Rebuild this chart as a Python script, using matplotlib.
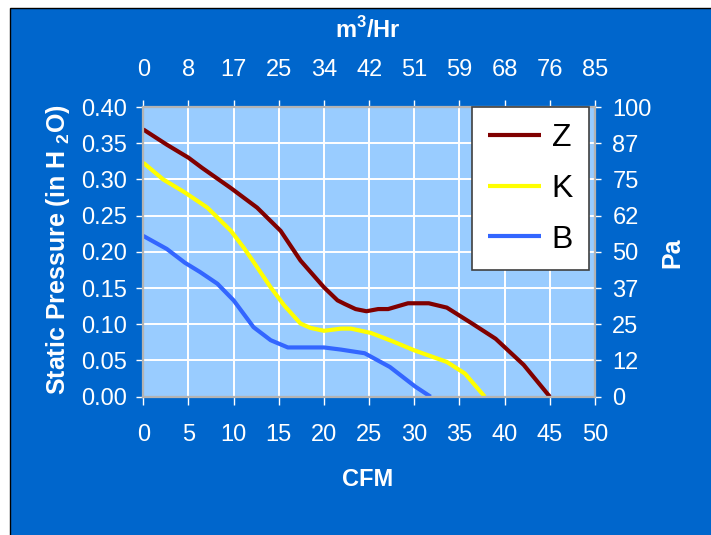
import matplotlib
matplotlib.use("Agg")
import matplotlib.pyplot as plt
from matplotlib.patches import Rectangle

plt.rcParams['font.family'] = ['Liberation Sans', 'DejaVu Sans']
plt.rcParams['mathtext.fontset'] = 'custom'
plt.rcParams['mathtext.rm'] = 'Liberation Sans'
plt.rcParams['mathtext.bf'] = 'Liberation Sans:bold'

# fan curves (CFM vs static pressure, in H2O)
z_cfm = [0, 2.6, 5.0, 6.5, 9.7, 12.6, 15.2, 17.4, 20.0, 21.5, 22.3, 23.5, 24.7,
         26.0, 27.1, 29.3, 31.6, 33.6, 36.4, 39.0, 42.1, 45.0]
z_p = [0.369, 0.348, 0.330, 0.316, 0.288, 0.261, 0.229, 0.188, 0.151, 0.133,
       0.128, 0.121, 0.118, 0.121, 0.121, 0.129, 0.129, 0.123, 0.101, 0.080,
       0.044, 0.0]

k_cfm = [0, 2.2, 4.6, 7.1, 9.7, 11.1, 12.1, 14.1, 15.6, 17.4, 18.5, 20.0, 21.9,
         23.0, 25.2, 27.5, 30.0, 33.6, 35.6, 37.8]
k_p = [0.323, 0.300, 0.282, 0.261, 0.229, 0.206, 0.188, 0.151, 0.126, 0.101,
       0.095, 0.091, 0.094, 0.094, 0.088, 0.077, 0.064, 0.048, 0.032, 0.0]

b_cfm = [0, 2.6, 4.6, 6.3, 8.2, 10.0, 12.2, 14.1, 16.0, 20.0, 21.9, 24.5, 27.3,
         30.1, 31.8]
b_p = [0.222, 0.204, 0.185, 0.172, 0.156, 0.133, 0.096, 0.078, 0.068, 0.068,
       0.065, 0.060, 0.041, 0.014, 0.0]

cfm_ticks = [0, 5, 10, 15, 20, 25, 30, 35, 40, 45, 50]
m3hr_labels = ['0', '8', '17', '25', '34', '42', '51', '59', '68', '76', '85']
inh2o_ticks = [0.0, 0.05, 0.10, 0.15, 0.20, 0.25, 0.30, 0.35, 0.40]
pa_labels = ['0', '12', '25', '37', '50', '62', '75', '87', '100']

W, H = 711, 535
fig = plt.figure(figsize=(W / 100, H / 100), dpi=100, facecolor='white')

# blue panel behind everything
panel = Rectangle((10 / W, -0.05), 1.2, 1.05 - 8 / H,
                  transform=fig.transFigure, facecolor='#0066CC',
                  edgecolor='black', linewidth=1, zorder=-10)
fig.add_artist(panel)

white = 'white'
fs = 17
spine_col = '#B4B4B4'
L, R, T, B = 143.3, 595, 107, 396.7
ax = fig.add_axes([L / W, 1 - B / H, (R - L) / W, (B - T) / H])
ax.set_facecolor('#99CCFF')

ax.plot(z_cfm, z_p, color='#800000', lw=3, label='Z', solid_capstyle='butt')
ax.plot(k_cfm, k_p, color='#FFFF00', lw=3, label='K', solid_capstyle='butt')
ax.plot(b_cfm, b_p, color='#3366FF', lw=3, label='B', solid_capstyle='butt')

ax.set_xlim(0, 50)
ax.set_ylim(0, 0.40)
ax.set_xticks(cfm_ticks)
ax.set_yticks(inh2o_ticks)
ax.set_yticklabels(['%.2f' % v for v in inh2o_ticks])
ax.grid(True, color='white', lw=1.4)
ax.set_axisbelow(True)
ax.tick_params(axis='x', colors=white, labelsize=fs, length=5.8, width=1, pad=13.5)
ax.tick_params(axis='y', colors=white, labelsize=fs, length=5, width=1, pad=6.5)

# top axis in m3/Hr
axt = ax.twiny()
axt.set_xlim(ax.get_xlim())
axt.set_xticks(cfm_ticks)
axt.set_xticklabels(m3hr_labels)
axt.tick_params(colors=white, labelsize=fs, length=5, width=1, pad=13.5)

# right axis in Pa
axr = ax.twinx()
axr.set_ylim(ax.get_ylim())
axr.set_yticks(inh2o_ticks)
axr.set_yticklabels(pa_labels)
axr.tick_params(colors=white, labelsize=fs, length=4, width=1, pad=8.5)
for a in (ax, axt, axr):
    for s in a.spines.values():
        s.set_color(spine_col)
        s.set_linewidth(1.5)

# axis titles
fig.text(368 / W, 1 - 480 / H, 'CFM', color=white, fontsize=fs, fontweight='bold',
         ha='center', va='center')
fig.text(368 / W, 1 - 30 / H, r'm$^\mathbf{3}$/Hr', color=white, fontsize=fs,
         fontweight='bold', ha='center', va='center')
fig.text(672 / W, 1 - 253 / H, 'Pa', color=white, fontsize=18, fontweight='bold',
         ha='center', va='center', rotation=90)
fig.text(58 / W, 1 - 250 / H, r'Static Pressure (in H $_\mathbf{2}$O)', color=white,
         fontsize=18, fontweight='bold', ha='center', va='center', rotation=90)

leg = axr.legend(*ax.get_legend_handles_labels(), loc='upper left',
                 bbox_to_anchor=(472 / W, 1 - 107 / H), bbox_transform=fig.transFigure,
                 borderaxespad=0, fontsize=23, handlelength=1.65, handletextpad=0.35,
                 labelspacing=0.65, borderpad=0.5, fancybox=False, framealpha=1)
leg.get_frame().set_edgecolor('#404040')
leg.get_frame().set_linewidth(1.2)
for line in leg.get_lines():
    line.set_linewidth(3)

fig.savefig('out.png', dpi=100, facecolor=fig.get_facecolor())
